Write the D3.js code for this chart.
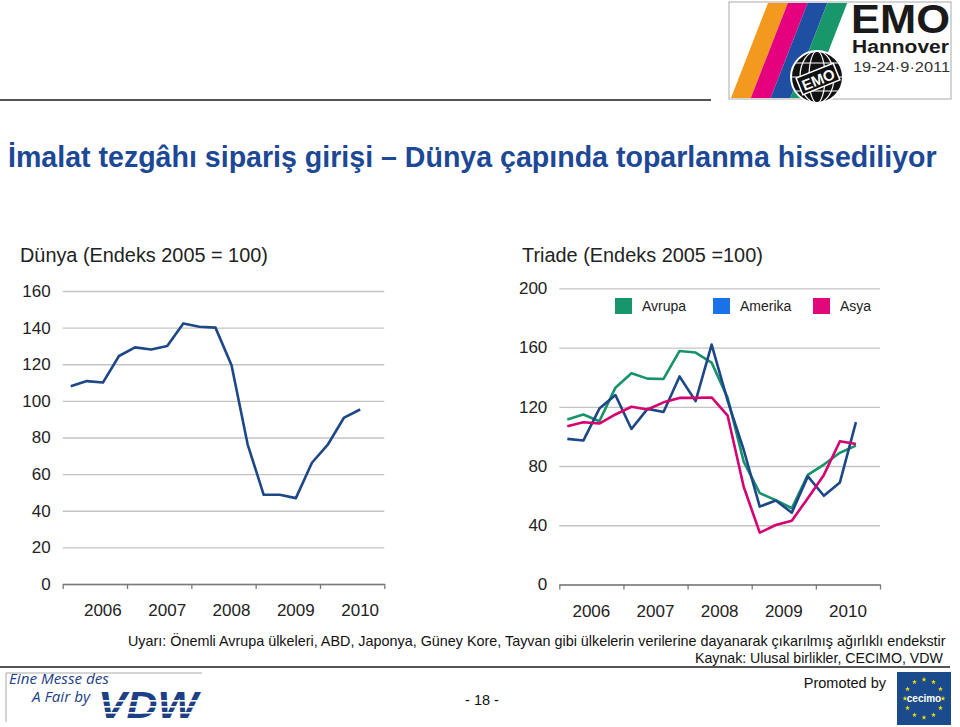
<!DOCTYPE html>
<html>
<head>
<meta charset="utf-8">
<script src="https://cdn.jsdelivr.net/npm/d3@7"></script>
<style>
body { margin: 0; background: #fff; }
svg { display: block; font-family: "Liberation Sans", Arial, sans-serif; }
</style>
</head>
<body>
<div id="chart"></div>
<script>
// veriler (grafikten okunan çeyrek değerleri, 2006 Ç1 - 2010 Ç3)
const years = ["2006", "2007", "2008", "2009", "2010"];
const quarters = ["06-1", "06-2", "06-3", "06-4", "07-1", "07-2", "07-3", "07-4",
  "08-1", "08-2", "08-3", "08-4", "09-1", "09-2", "09-3", "09-4",
  "10-1", "10-2", "10-3", "10-4"];

const dunya = [108, 110.8, 110, 124.5, 129.2, 128.1, 130, 142.3, 140.5, 140,
  119.5, 76.3, 48.7, 48.7, 46.9, 66.2, 76.3, 90.9, 95.3];

const avrupa = [111.4, 114.8, 110.2, 132.9, 142.6, 139, 138.8, 157.7, 156.6, 149.8,
  126, 83, 61.7, 57, 51.5, 74, 81, 89, 93.8];
const amerika = [98.3, 97.2, 118.8, 127.9, 105, 118.6, 116.5, 140.5, 123.8, 162,
  124, 91, 52.6, 56.7, 48.5, 73, 59.9, 68.9, 109.6];
const asya = [106.9, 109.6, 108.7, 114.8, 120, 118.2, 123, 126, 126, 126.3,
  114, 66, 35, 40.2, 43.1, 58.3, 74, 96.7, 94.9];

const dunyaTicks = [0, 20, 40, 60, 80, 100, 120, 140, 160];
const triadeTicks = [0, 40, 80, 120, 160, 200];

const seriesNames = ["Avrupa", "Amerika", "Asya"];
const lineColors = ["#16936b", "#1d4787", "#d6006f"];
const legendColors = ["#17956b", "#1a72e6", "#e0087a"];

const W = 960, H = 727;
const svg = d3.select("#chart").append("svg")
  .attr("width", W).attr("height", H);

// metni verilen genişliğe sığdıran yardımcı
function fit(sel, width) {
  const base = 100;
  sel.attr("font-size", base);
  const len = sel.node().getComputedTextLength();
  sel.attr("font-size", base * width / len);
  return sel;
}

// üst çizgi ve başlık
svg.append("line").attr("x1", 0).attr("x2", 711).attr("y1", 100).attr("y2", 100)
  .attr("stroke", "#555").attr("stroke-width", 2);

fit(svg.append("text").attr("x", 8).attr("y", 167)
  .attr("font-weight", "bold").attr("fill", "#1c4896")
  .text("İmalat tezgâhı sipariş girişi – Dünya çapında toparlanma hissediliyor"), 929);

fit(svg.append("text").attr("x", 20).attr("y", 262).attr("fill", "#222")
  .text("Dünya (Endeks 2005 = 100)"), 248);
fit(svg.append("text").attr("x", 522).attr("y", 262).attr("fill", "#222")
  .text("Triade (Endeks 2005 =100)"), 241);

function panel(cfg) {
  const g = svg.append("g");
  const y = d3.scaleLinear().domain([0, cfg.max]).range([cfg.y0, cfg.yTop]);
  const xb = d3.scaleLinear().domain([0, years.length]).range([cfg.x0, cfg.x1]);
  const xy = d3.scaleBand().domain(years).range([cfg.x0, cfg.x1]);
  const xq = d3.scaleBand().domain(quarters).range([cfg.x0, cfg.x1]);

  const yAxis = g.append("g").attr("transform", `translate(${cfg.x0},0)`)
    .call(d3.axisLeft(y).tickValues(cfg.ticks).tickSize(-(cfg.x1 - cfg.x0)).tickPadding(12));
  yAxis.select(".domain").remove();
  yAxis.selectAll("line").attr("stroke", "#c3c3c3").attr("stroke-width", 1.3);
  yAxis.selectAll("text").attr("font-size", 17).attr("fill", "#222")
    .attr("font-family", "Liberation Sans, Arial, sans-serif");

  const xAxis = g.append("g").attr("transform", `translate(0,${cfg.y0})`)
    .call(d3.axisBottom(xb).tickValues(d3.range(years.length + 1)).tickSize(5)
      .tickSizeOuter(0).tickFormat(""));
  xAxis.selectAll("path, line").attr("stroke", "#7a7a7a").attr("stroke-width", 1.3);

  const xLab = g.append("g").attr("transform", `translate(${cfg.dx},${cfg.y0})`)
    .call(d3.axisBottom(xy).tickSize(0).tickPadding(20));
  xLab.select(".domain").remove();
  xLab.selectAll("text").attr("font-size", 17).attr("fill", "#222")
    .attr("font-family", "Liberation Sans, Arial, sans-serif");

  const line = d3.line()
    .x((d, i) => xq(quarters[i]) + xq.bandwidth() / 2)
    .y(d => y(d));

  cfg.series.forEach((s, k) => {
    g.append("path").datum(s)
      .attr("fill", "none")
      .attr("stroke", cfg.colors[k])
      .attr("stroke-width", 2.6)
      .attr("stroke-linejoin", "round")
      .attr("d", line);
  });
  return g;
}

panel({ x0: 62.7, x1: 384.3, y0: 584, yTop: 291, max: 160, ticks: dunyaTicks,
  dx: 8, series: [dunya], colors: ["#1d4787"] });

panel({ x0: 559.3, x1: 880, y0: 584.5, yTop: 288.3, max: 200, ticks: triadeTicks,
  dx: 0, series: [avrupa, amerika, asya], colors: lineColors });

// lejant
const legX = [615, 713, 813];
const leg = svg.append("g").selectAll("g").data(seriesNames).join("g")
  .attr("transform", (d, i) => `translate(${legX[i]},298)`);
leg.append("rect").attr("width", 17).attr("height", 16)
  .attr("fill", (d, i) => legendColors[i]);
leg.append("text").attr("x", 27).attr("y", 13).attr("font-size", 14)
  .attr("fill", "#222").text(d => d);

// alt notlar
fit(svg.append("text").attr("x", 128).attr("y", 646).attr("fill", "#111")
  .text("Uyarı: Önemli Avrupa ülkeleri, ABD, Japonya, Güney Kore, Tayvan gibi ülkelerin verilerine dayanarak çıkarılmış ağırlıklı endekstir"), 818);
fit(svg.append("text").attr("x", 695).attr("y", 663).attr("fill", "#111")
  .text("Kaynak: Ulusal birlikler, CECIMO, VDW"), 248);

svg.append("line").attr("x1", 0).attr("x2", 950).attr("y1", 667).attr("y2", 667)
  .attr("stroke", "#555").attr("stroke-width", 2);

svg.append("text").attr("x", 886).attr("y", 688).attr("font-size", 14.5)
  .attr("text-anchor", "end").attr("fill", "#111").text("Promoted by");

svg.append("text").attr("x", 482).attr("y", 705).attr("font-size", 14.5)
  .attr("text-anchor", "middle").attr("fill", "#111").text("- 18 -");

// VDW logosu
svg.append("path").attr("d", "M6,722V673H202").attr("fill", "none")
  .attr("stroke", "#aaa").attr("stroke-width", 1);
fit(svg.append("text").attr("x", 9).attr("y", 684).attr("font-style", "italic")
  .attr("fill", "#1d3f86").attr("font-family", "Open Sans, sans-serif")
  .text("Eine Messe des"), 100);
fit(svg.append("text").attr("x", 32).attr("y", 702).attr("font-style", "italic")
  .attr("fill", "#1d3f86").attr("font-family", "Open Sans, sans-serif")
  .text("A Fair by"), 58);
svg.append("text").attr("x", 98).attr("y", 718).attr("font-size", 36)
  .attr("font-weight", "900").attr("font-style", "italic").attr("fill", "#1d3f86")
  .attr("textLength", 100).attr("lengthAdjust", "spacingAndGlyphs").text("VDW");
[700, 706, 712].forEach(yy => svg.append("rect").attr("x", 96).attr("y", yy)
  .attr("width", 106).attr("height", 1.6).attr("fill", "#fff"));

// CECIMO logosu
svg.append("rect").attr("x", 897).attr("y", 672).attr("width", 54).attr("height", 53)
  .attr("fill", "#1b4b8c");
d3.range(12).forEach(i => {
  const a = i * Math.PI / 6;
  svg.append("path").attr("d", d3.symbol(d3.symbolStar, 8)())
    .attr("transform", `translate(${924 + 19 * Math.cos(a)},${698.5 + 19 * Math.sin(a)})`)
    .attr("fill", "#f5e100");
});
svg.append("text").attr("x", 924).attr("y", 702).attr("font-size", 10)
  .attr("font-weight", "bold").attr("text-anchor", "middle").attr("fill", "#fff")
  .text("cecimo");

// EMO Hannover logosu
const emo = svg.append("g");
emo.append("rect").attr("x", 729).attr("y", 2).attr("width", 222).attr("height", 97)
  .attr("fill", "#fff").attr("stroke", "#aaa");
const stripeColors = ["#f39a1e", "#e5007e", "#1f4fa3", "#17976a"];
stripeColors.forEach((c, i) => {
  const b = 731 + i * 19.8, t = 768 + i * 19.8;
  emo.append("path")
    .attr("d", `M${b},98L${b + 19.8},98L${t + 19.8},3L${t},3Z`)
    .attr("fill", c);
});
emo.append("circle").attr("cx", 817).attr("cy", 77).attr("r", 26)
  .attr("fill", "#111").attr("stroke", "#fff").attr("stroke-width", 2);
[8, 17].forEach(rx => emo.append("ellipse").attr("cx", 817).attr("cy", 77)
  .attr("rx", rx).attr("ry", 26).attr("fill", "none").attr("stroke", "#fff").attr("stroke-width", 1.2));
[-14, 0, 14].forEach(dy => emo.append("line").attr("x1", 817 - Math.sqrt(676 - dy * dy))
  .attr("x2", 817 + Math.sqrt(676 - dy * dy)).attr("y1", 77 + dy).attr("y2", 77 + dy)
  .attr("stroke", "#fff").attr("stroke-width", 1.2));
const tag = emo.append("g").attr("transform", "translate(818,79) rotate(-22)");
tag.append("rect").attr("x", -20).attr("y", -9).attr("width", 40).attr("height", 18)
  .attr("fill", "#111").attr("stroke", "#fff").attr("stroke-width", 1.5);
tag.append("text").attr("y", 6).attr("font-size", 15).attr("font-weight", "bold")
  .attr("text-anchor", "middle").attr("fill", "#fff").text("EMO");
emo.append("text").attr("x", 851).attr("y", 33).attr("font-size", 40)
  .attr("font-weight", "900").attr("fill", "#1a1a1a")
  .attr("textLength", 99).attr("lengthAdjust", "spacingAndGlyphs").text("EMO");
emo.append("text").attr("x", 852).attr("y", 53).attr("font-size", 18)
  .attr("font-weight", "bold").attr("fill", "#1a1a1a")
  .attr("textLength", 97).attr("lengthAdjust", "spacingAndGlyphs").text("Hannover");
emo.append("text").attr("x", 853).attr("y", 72).attr("font-size", 15)
  .attr("fill", "#333").attr("textLength", 97).attr("lengthAdjust", "spacingAndGlyphs")
  .text("19-24·9·2011");
</script>
</body>
</html>
